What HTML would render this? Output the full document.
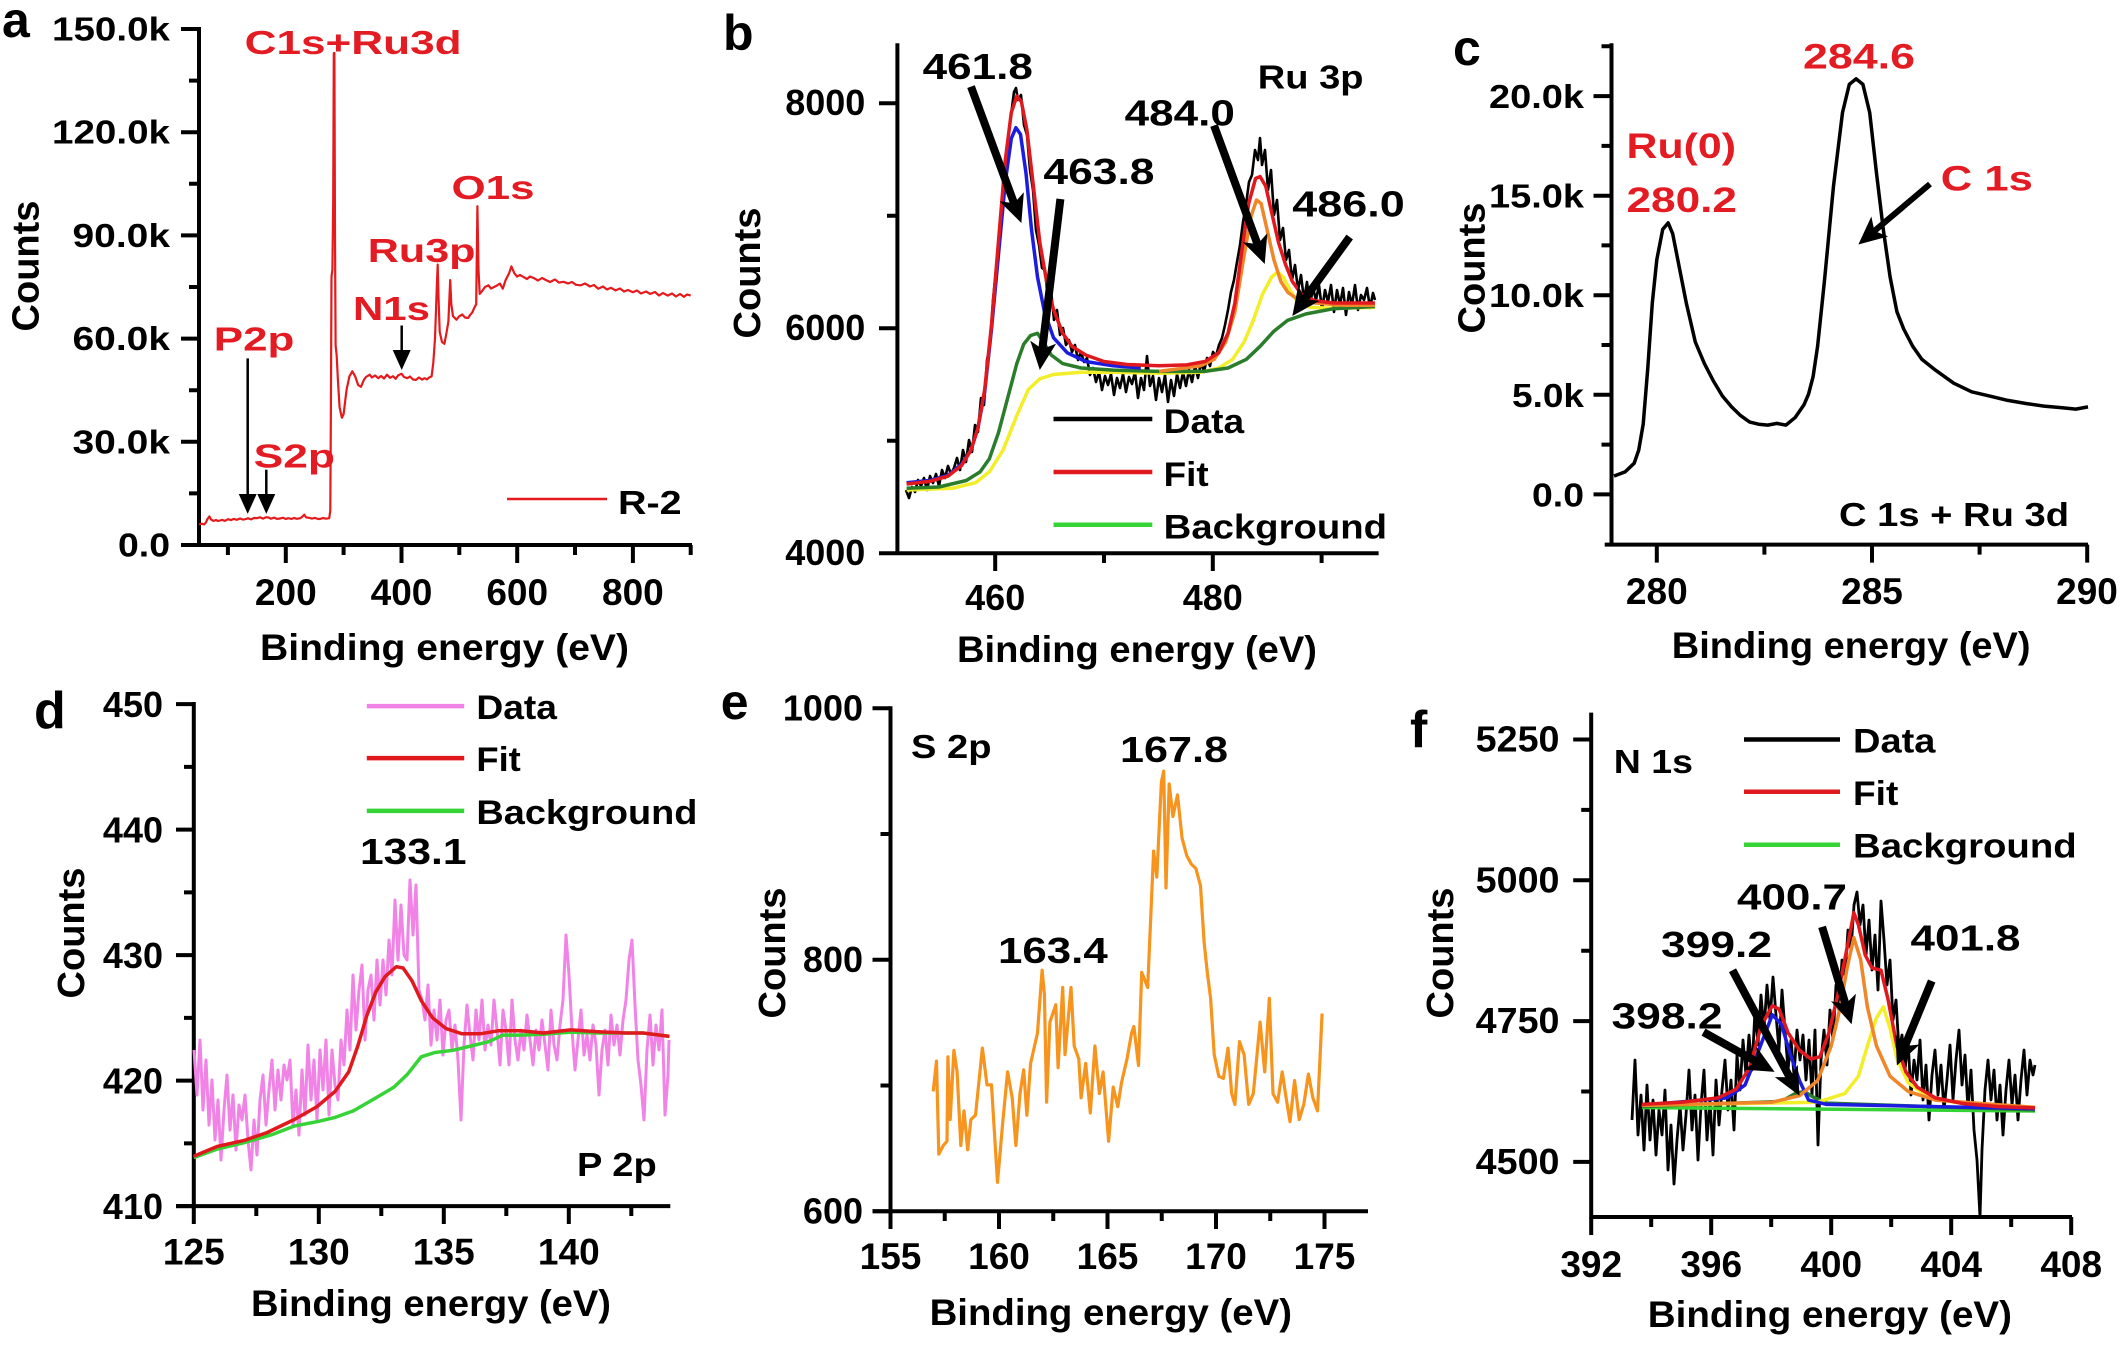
<!DOCTYPE html>
<html><head><meta charset="utf-8">
<style>
html,body{margin:0;padding:0;background:#fff}
svg{display:block}
text{font-family:"Liberation Sans",Arial,sans-serif;font-weight:bold}
</style></head>
<body>
<svg width="2120" height="1345" viewBox="0 0 2120 1345" xmlns="http://www.w3.org/2000/svg">
<defs>
<marker id="ah" markerUnits="userSpaceOnUse" markerWidth="28" markerHeight="26" refX="18" refY="13" orient="auto" viewBox="0 0 28 26"><path d="M0,0 L28,13 L0,26 L7,13 z" fill="#000"/></marker>
<marker id="as" markerUnits="userSpaceOnUse" markerWidth="20" markerHeight="18" refX="14" refY="9" orient="auto" viewBox="0 0 20 18"><path d="M0,0 L20,9 L0,18 z" fill="#000"/></marker>
</defs>
<rect width="2120" height="1345" fill="#fff"/>

<!-- ================= PANEL A ================= -->
<g stroke="#000" stroke-width="4" fill="none">
<path d="M199,27 V547 M181,545 H692"/>
<path d="M181,29 H199 M181,132.2 H199 M181,235.4 H199 M181,338.6 H199 M181,441.8 H199"/>
<path d="M189,80.6 H199 M189,183.8 H199 M189,287 H199 M189,390.2 H199 M189,493.4 H199"/>
<path d="M285.8,545 V563 M401.5,545 V563 M517.2,545 V563 M632.9,545 V563"/>
<path d="M227.9,545 V555 M343.6,545 V555 M459.3,545 V555 M575,545 V555 M690.7,545 V555"/>
</g>
<path fill="none" stroke="#e41a1c" stroke-width="2.2" stroke-linejoin="round" d="M199,524.4 L201.9,523.7 L204,524.5 L205.9,522.6 L207.5,519 L209.4,516.4 L211,519.5 L213.5,520.9 L216,520 L218,521 L222.1,519.9 L225,520.8 L228,519.2 L231,520.1 L233.7,518.9 L237,519.8 L240,518.5 L243,519.6 L245.3,519.2 L248,518.3 L251,519.4 L254,518 L256.9,518.2 L260,517.3 L263,518.6 L266,517.2 L268.4,517.5 L271,518.7 L274,517.6 L277,518.9 L280,518.5 L283,517.8 L286,519 L288,518.2 L291.6,518.9 L294,518 L297,518.8 L300.2,518.2 L302,517 L304.3,514.7 L306,517.3 L308.9,517.8 L312,518.6 L315,517.9 L318,519 L320.5,518.9 L323,518 L326,518.7 L329.2,518.2 L330.3,510.6 L330.9,407.4 L331.5,276.7 L332.4,269.8 L333.2,201 L333.8,53.1 L334.4,53 L335,235.4 L335.6,345.5 L336.7,355.8 L337.9,379.9 L339.6,407.4 L341.9,417.7 L343.6,414.3 L346.5,390.2 L349.4,376.4 L352.3,371.3 L355.2,376.4 L358.1,385 L361,386.8 L363.9,379.9 L366,377 L369.7,374.7 L372,377.5 L375,375.5 L378.3,378.2 L381,376 L384,378.5 L387,374.7 L390,377.8 L393,376.2 L395.7,378.8 L398,375.5 L401.5,373.7 L404,377 L407.3,378.2 L410,376.5 L413,379.5 L415.9,379.9 L419,377.5 L422,379.6 L424.6,378.2 L427,379.4 L429,377.6 L431.6,376.4 L433.3,362.7 L435,338.6 L436.8,287 L437.7,264.6 L438.5,297.3 L439.7,331.7 L442,342 L444.4,343.8 L446.7,331.7 L448.4,321.4 L450.2,280.1 L451.3,304.2 L453,316.2 L456.5,319.7 L459,316.5 L462.3,314.5 L465,317.5 L468.1,318 L470,315 L472.1,312.8 L474.4,307.6 L476.2,304.2 L477.4,206.2 L478.5,269.8 L479.7,293.9 L482.6,290.4 L485,287 L488.4,285.3 L491,288.5 L494.1,287 L497,285.5 L499.9,283.6 L502.8,288.7 L505.6,280.1 L509.1,273.2 L511.4,266.4 L514.3,273.2 L517,276.5 L520,275 L523,276.7 L527,279 L530,276.5 L534.5,278.4 L538,280.5 L542,278 L546.1,280.1 L550,282 L555,279.5 L559,282.6 L563.5,281.8 L568,283.5 L572,282 L576,284.8 L580.8,285.3 L585,283.5 L590,286.5 L594,285 L598.2,288.7 L603,286.5 L607,289.5 L611,287.8 L615.5,290.4 L620,288.5 L624,291.5 L628,290 L632.9,292.2 L637,290.5 L641,293.5 L646,291.5 L650.2,293.9 L655,292 L659,295.5 L663,293 L667.6,295.6 L672,293.5 L676,296.5 L680,294 L684,296.8 L687,294.5 L690.7,295.6"/>
<g stroke="#000" stroke-width="2.5" fill="none">
<path d="M247.7,358.4 V507.9" marker-end="url(#as)"/>
<path d="M266.3,469.7 V507.9" marker-end="url(#as)"/>
<path d="M401.7,325.5 V364" marker-end="url(#as)"/>
</g>
<line x1="507" y1="499" x2="607" y2="499" stroke="#e41a1c" stroke-width="2.5"/>
<text x="618" y="514" font-size="33" textLength="63.6" lengthAdjust="spacingAndGlyphs">R-2</text>
<g fill="#e31b23" font-size="33">
<text x="244.6" y="54" textLength="217" lengthAdjust="spacingAndGlyphs">C1s+Ru3d</text>
<text x="451.5" y="199" textLength="83" lengthAdjust="spacingAndGlyphs">O1s</text>
<text x="367.8" y="262" textLength="107.7" lengthAdjust="spacingAndGlyphs">Ru3p</text>
<text x="353" y="320" textLength="77" lengthAdjust="spacingAndGlyphs">N1s</text>
<text x="213.8" y="350.6" textLength="80.6" lengthAdjust="spacingAndGlyphs">P2p</text>
<text x="253.6" y="467.5" textLength="81.4" lengthAdjust="spacingAndGlyphs">S2p</text>
</g>
<text x="2" y="37" font-size="50">a</text>
<g font-size="33">
<text x="52" y="40.5" textLength="118" lengthAdjust="spacingAndGlyphs">150.0k</text>
<text x="52" y="143.7" textLength="118" lengthAdjust="spacingAndGlyphs">120.0k</text>
<text x="72.5" y="246.9" textLength="97.5" lengthAdjust="spacingAndGlyphs">90.0k</text>
<text x="72.5" y="350.1" textLength="97.5" lengthAdjust="spacingAndGlyphs">60.0k</text>
<text x="72.5" y="453.3" textLength="97.5" lengthAdjust="spacingAndGlyphs">30.0k</text>
<text x="118" y="556.5" textLength="52" lengthAdjust="spacingAndGlyphs">0.0</text>
</g>
<g font-size="37" text-anchor="middle">
<text x="285.8" y="605">200</text>
<text x="401.5" y="605">400</text>
<text x="517.2" y="605">600</text>
<text x="632.9" y="605">800</text>
</g>
<text x="260" y="660" font-size="37" textLength="369" lengthAdjust="spacingAndGlyphs">Binding energy (eV)</text>
<text transform="translate(38.5,266) rotate(-90)" text-anchor="middle" font-size="38">Counts</text>

<!-- ================= PANEL B ================= -->
<g stroke="#000" stroke-width="4" fill="none">
<path d="M897.4,43.3 V555 M879,553.2 H1378.6"/>
<path d="M879,103.2 H897.4 M879,328.2 H897.4"/>
<path d="M887,215.7 H897.4 M887,440.7 H897.4"/>
<path d="M995.2,553.2 V571 M1212.8,553.2 V571"/>
<path d="M1104,553.2 V563 M1321.6,553.2 V563"/>
</g>
<path fill="none" stroke="#000" stroke-width="2.6" stroke-linejoin="round" d="M906,490 L909,498 L912,487 L915,492 L918,480 L921,486 L924,478 L927,490 L930,476 L933,483 L936,474 L939,486 L942,470 L945,478 L948,466 L951,474 L954,468 L957,458 L960,470 L963,450 L966,462 L969,440 L972,452 L975,425 L978,432 L981,398 L984,405 L987,360 L990,345 L993,300 L996,270 L999,240 L1002,205 L1005,180 L1008,140 L1011,115 L1014,92 L1016,88 L1018,100 L1021,95 L1024,125 L1027,135 L1030,170 L1033,190 L1036,230 L1039,245 L1042,268 L1045,270 L1048,300 L1051,290 L1054,320 L1057,310 L1060,335 L1063,328 L1066,345 L1069,340 L1072,352 L1075,345 L1078,360 L1081,352 L1084,362 L1087,358 L1090,375 L1093,368 L1096,382 L1099,372 L1102,390 L1105,376 L1108,385 L1111,374 L1114,395 L1117,378 L1120,388 L1123,374 L1126,392 L1129,377 L1132,384 L1135,372 L1138,398 L1141,378 L1144,390 L1147,356 L1150,386 L1153,376 L1156,400 L1159,378 L1162,392 L1165,375 L1168,402 L1171,380 L1174,396 L1177,374 L1180,388 L1183,372 L1186,386 L1189,370 L1192,382 L1195,366 L1198,378 L1201,362 L1204,372 L1207,358 L1210,366 L1213,352 L1216,356 L1219,345 L1222,338 L1225,325 L1228,310 L1231,292 L1234,280 L1237,262 L1240,245 L1243,222 L1246,205 L1249,182 L1252,175 L1255,150 L1258,160 L1260,138 L1262,165 L1265,150 L1268,190 L1271,170 L1274,215 L1277,200 L1280,240 L1283,228 L1286,260 L1289,250 L1292,280 L1295,265 L1298,290 L1301,275 L1304,300 L1307,282 L1310,305 L1313,288 L1316,300 L1319,285 L1322,310 L1325,290 L1328,302 L1331,285 L1334,312 L1337,290 L1340,305 L1343,288 L1346,315 L1349,292 L1352,305 L1355,285 L1358,310 L1361,295 L1364,300 L1367,288 L1370,308 L1373,293 L1375,300"/>
<g fill="none" stroke-width="3.5" stroke-linejoin="round">
<path stroke="#f2ee2a" d="M906.6,490 L952.5,488.3 L975.5,482.7 L989.3,471.9 L1003,450.2 L1016.8,415.6 L1028.3,389.6 L1039.8,378.8 L1053.5,374.5 L1081.1,372.3 L1113.2,372.3 L1159.1,373.2 L1200.5,372.3 L1218.8,368 L1232.6,359.3 L1244.1,342 L1253.3,320.3 L1262.4,294.4 L1271.6,277.1 L1277.6,271.9 L1283.1,277.1 L1290,290 L1296.9,300.9 L1310.6,307.4 L1333.6,308.2 L1374.9,307.4"/>
<path stroke="#2a7d2a" d="M906.6,488.3 L938.8,487 L966.3,480.5 L980.1,471.9 L989.3,458.9 L998.4,432.9 L1007.6,398.3 L1016.8,363.6 L1023.7,344.2 L1030.6,335.5 L1037.5,333.3 L1043.4,342 L1051.2,355 L1062.7,363.6 L1081.1,368 L1113.2,370.1 L1159.1,371.4 L1205,371.4 L1228,368 L1246.4,359.3 L1260.1,346.3 L1273.9,331.2 L1287.7,320.3 L1306.1,313.9 L1333.6,308.7 L1374.9,306.5"/>
<path stroke="#f0862a" d="M1159.1,371.4 L1200.5,365.8 L1214.2,359.3 L1225.7,342 L1234.9,311.7 L1244.1,255.4 L1251,216.5 L1256.5,200 L1261.1,203.5 L1267,229.4 L1273.9,259.7 L1280.8,281.4 L1287.7,292.2 L1296.9,298.7 L1315.2,303 L1342.8,305.2 L1374.9,305.2"/>
<path stroke="#1c1ce0" d="M906.6,482.7 L929.6,480.5 L947.9,475.3 L961.7,464.1 L970.9,450.2 L977.8,428.6 L984.7,391.8 L991.5,329 L998.4,255.4 L1005.3,181.8 L1011.3,138.5 L1015.9,127.7 L1020.5,134.2 L1026,173.2 L1031.5,229.4 L1037.5,277 L1044.4,311.7 L1053.5,337.7 L1067.3,352.8 L1085.7,361.5 L1113.2,365.8 L1140.8,368"/>
<path stroke="#e0191e" d="M906.6,484 L929.6,481.4 L947.9,476.2 L961.7,465.4 L970.9,450.2 L977.8,428.6 L984.7,389.6 L991.5,324.7 L998.4,242.4 L1005.3,160.2 L1011.3,112.6 L1016.8,96.1 L1021.4,101.7 L1026.9,129.9 L1032.9,181.8 L1039.8,242.4 L1046.6,281.4 L1053.5,309.5 L1062.7,333.3 L1071.9,346.3 L1085.7,355 L1104,361.5 L1127,364.5 L1159.1,365.8 L1186.7,364.9 L1205,361.5 L1218.8,352.8 L1228,333.3 L1234.9,303 L1241.8,251.1 L1248.7,203.5 L1255.6,178.4 L1260.1,176.6 L1265.7,186.1 L1271.6,212.1 L1278.5,242.4 L1285.4,264.1 L1292.3,281.4 L1301.5,294.4 L1315.2,300.9 L1333.6,303 L1352,303 L1374.9,303"/>
</g>
<g stroke="#000" stroke-width="8" fill="none">
<path d="M971,86.6 L1017.9,213.6" marker-end="url(#ah)"/>
<path d="M1060.4,199 L1041,360.1" marker-end="url(#ah)"/>
<path d="M1214,125.5 L1261.3,254.6" marker-end="url(#ah)"/>
<path d="M1349.7,237 L1298.2,307.9" marker-end="url(#ah)"/>
</g>
<g font-size="36">
<text x="922.7" y="79" textLength="110.2" lengthAdjust="spacingAndGlyphs">461.8</text>
<text x="1043.4" y="184" textLength="111.1" lengthAdjust="spacingAndGlyphs">463.8</text>
<text x="1124.7" y="125.5" textLength="110.2" lengthAdjust="spacingAndGlyphs">484.0</text>
<text x="1292.3" y="216.5" textLength="112.5" lengthAdjust="spacingAndGlyphs">486.0</text>
</g>
<text x="1257.8" y="88.7" font-size="33" textLength="105.7" lengthAdjust="spacingAndGlyphs">Ru 3p</text>
<line x1="1053.5" y1="419" x2="1152.3" y2="419" stroke="#000" stroke-width="4.5"/>
<line x1="1053.5" y1="472" x2="1152.3" y2="472" stroke="#e0191e" stroke-width="4.5"/>
<line x1="1053.5" y1="524.7" x2="1152.3" y2="524.7" stroke="#35d335" stroke-width="4.5"/>
<g font-size="34">
<text x="1163.7" y="433" textLength="80.4" lengthAdjust="spacingAndGlyphs">Data</text>
<text x="1163.7" y="486" textLength="45" lengthAdjust="spacingAndGlyphs">Fit</text>
<text x="1163.7" y="538.7" textLength="223.3" lengthAdjust="spacingAndGlyphs">Background</text>
</g>
<text x="723" y="50" font-size="50">b</text>
<g font-size="36" text-anchor="end">
<text x="865.3" y="115">8000</text>
<text x="865.3" y="340">6000</text>
<text x="865.3" y="565">4000</text>
</g>
<g font-size="36" text-anchor="middle">
<text x="995.2" y="610">460</text>
<text x="1212.8" y="610">480</text>
</g>
<text x="957" y="662" font-size="37" textLength="360" lengthAdjust="spacingAndGlyphs">Binding energy (eV)</text>
<text transform="translate(760,273) rotate(-90)" text-anchor="middle" font-size="38">Counts</text>

<!-- ================= PANEL C ================= -->
<g stroke="#000" stroke-width="4" fill="none">
<path d="M1611.5,43.3 V546.6 M1604.7,544.6 H2088"/>
<path d="M1593.5,494.4 H1611.5 M1593.5,394.8 H1611.5 M1593.5,295.2 H1611.5 M1593.5,195.7 H1611.5 M1593.5,96.1 H1611.5"/>
<path d="M1601.5,46.3 H1611.5 M1601.5,145.9 H1611.5 M1601.5,245.4 H1611.5 M1601.5,345 H1611.5 M1601.5,444.6 H1611.5"/>
<path d="M1656.8,544.6 V562.6 M1872,544.6 V562.6 M2087.2,544.6 V562.6"/>
<path d="M1764.4,544.6 V554.6 M1979.6,544.6 V554.6"/>
</g>
<path fill="none" stroke="#000" stroke-width="3.5" stroke-linejoin="round" d="M1614,476 L1616.1,475.3 L1625.1,471.9 L1634.2,463.2 L1638.7,450.2 L1643.2,424.2 L1647.8,368 L1652.3,303 L1656.8,259.7 L1662.7,229.4 L1668.2,222.9 L1672.7,233.8 L1679.5,268.4 L1686.3,303 L1695.3,342 L1704.4,363.6 L1713.4,381 L1722.5,396.1 L1731.6,406.9 L1740.6,415.6 L1749.7,422.1 L1758.7,424.2 L1767.8,425.1 L1776.8,423.4 L1785.9,425.1 L1795,417.7 L1804,404.8 L1808.6,393.9 L1813.1,376.6 L1817.6,346.3 L1824.4,281.4 L1833.5,186.1 L1842.5,112.6 L1849.3,84.4 L1856.1,78.8 L1862.9,84.4 L1869.7,112.6 L1876.5,173.2 L1883.3,229.4 L1890.1,277 L1896.9,311.7 L1903.7,329 L1912.7,346.3 L1921.8,359.3 L1935.4,370.1 L1953.5,383.1 L1971.6,391.8 L1989.7,396.1 L2007.8,400.4 L2025.9,403.5 L2044,406.1 L2062.2,407.8 L2075.8,409.1 L2088,406.9"/>
<path d="M1930,184 L1866,238.1" stroke="#000" stroke-width="6" fill="none" marker-end="url(#ah)"/>
<g fill="#e31b23" font-size="35">
<text x="1803" y="68.4" textLength="112" lengthAdjust="spacingAndGlyphs">284.6</text>
<text x="1626.5" y="158" textLength="109.5" lengthAdjust="spacingAndGlyphs">Ru(0)</text>
<text x="1626.5" y="212" textLength="110.5" lengthAdjust="spacingAndGlyphs">280.2</text>
<text x="1940.8" y="190.5" textLength="92" lengthAdjust="spacingAndGlyphs">C 1s</text>
</g>
<text x="1839" y="526" font-size="33" textLength="230" lengthAdjust="spacingAndGlyphs">C 1s + Ru 3d</text>
<text x="1453" y="65" font-size="50">c</text>
<g font-size="33">
<text x="1489" y="108" textLength="95" lengthAdjust="spacingAndGlyphs">20.0k</text>
<text x="1489" y="207.7" textLength="95" lengthAdjust="spacingAndGlyphs">15.0k</text>
<text x="1489" y="307.2" textLength="95" lengthAdjust="spacingAndGlyphs">10.0k</text>
<text x="1512" y="406.8" textLength="72" lengthAdjust="spacingAndGlyphs">5.0k</text>
<text x="1532" y="506.4" textLength="52" lengthAdjust="spacingAndGlyphs">0.0</text>
</g>
<g font-size="37" text-anchor="middle">
<text x="1656.8" y="604">280</text>
<text x="1872" y="604">285</text>
<text x="2087" y="604">290</text>
</g>
<text x="1671.8" y="658" font-size="37" textLength="358.7" lengthAdjust="spacingAndGlyphs">Binding energy (eV)</text>
<text transform="translate(1484.7,268) rotate(-90)" text-anchor="middle" font-size="38">Counts</text>

<!-- ================= PANEL D ================= -->
<g stroke="#000" stroke-width="4" fill="none">
<path d="M193.8,702 V1208 M176,1206.1 H670.3"/>
<path d="M176,1206.1 H193.8 M176,1080.6 H193.8 M176,955.1 H193.8 M176,829.6 H193.8 M176,704.1 H193.8"/>
<path d="M184,1143.4 H193.8 M184,1017.9 H193.8 M184,892.4 H193.8 M184,766.9 H193.8"/>
<path d="M193.8,1206.1 V1224 M318.8,1206.1 V1224 M443.8,1206.1 V1224 M568.8,1206.1 V1224"/>
<path d="M256.3,1206.1 V1216 M381.3,1206.1 V1216 M506.3,1206.1 V1216 M631.3,1206.1 V1216"/>
</g>
<path fill="none" stroke="#f283e6" stroke-width="3" stroke-linejoin="round" d="M194,1050 L197,1095 L200,1040 L203,1110 L206,1060 L209,1125 L212,1080 L215,1140 L218,1100 L221,1160 L224,1110 L227,1075 L230,1130 L233,1095 L236,1150 L239,1105 L242,1120 L245,1095 L248,1140 L251,1170 L254,1120 L257,1155 L260,1100 L263,1075 L266,1125 L269,1090 L272,1060 L275,1110 L278,1070 L281,1100 L284,1065 L287,1080 L290,1060 L293,1125 L296,1090 L299,1135 L302,1070 L305,1115 L308,1045 L311,1100 L314,1060 L317,1120 L320,1050 L323,1090 L326,1040 L329,1115 L332,1050 L335,1085 L338,1100 L341,1040 L344,1065 L347,1010 L350,1050 L353,975 L356,1030 L359,990 L362,965 L365,1040 L368,990 L371,975 L374,1020 L377,960 L380,1005 L383,960 L386,995 L389,940 L392,975 L395,900 L398,960 L401,905 L404,955 L407,960 L410,880 L413,935 L416,885 L419,990 L422,1000 L425,1020 L428,985 L431,1045 L434,1010 L437,1040 L440,1000 L443,1055 L446,1020 L449,1010 L452,1050 L455,1025 L458,1060 L461,1120 L464,1045 L467,1005 L470,1035 L473,1060 L476,1010 L479,1040 L482,1000 L485,1050 L488,1025 L491,1045 L494,1000 L497,1030 L500,1065 L503,1010 L506,1030 L509,1065 L512,1000 L515,1040 L518,1060 L521,1030 L524,1050 L527,1015 L530,1040 L533,1065 L536,1030 L539,1050 L542,1020 L545,1045 L548,1070 L551,1010 L554,1045 L557,1060 L560,1025 L563,1000 L566,935 L569,975 L572,1030 L575,1070 L578,1040 L581,1010 L584,1055 L587,1035 L590,1060 L593,1025 L596,1045 L599,1095 L602,1050 L605,1030 L608,1065 L611,1015 L614,1045 L617,1025 L620,1055 L623,1020 L626,1000 L629,960 L632,940 L635,1005 L638,1060 L641,1085 L644,1120 L647,1050 L650,1015 L653,1065 L656,1025 L659,1050 L662,1010 L665,1115 L668,1075 L669,1040"/>
<path fill="none" stroke="#35d335" stroke-width="3.5" stroke-linejoin="round" d="M193.8,1157.6 L217.4,1149 L244.6,1142.5 L271.7,1134.7 L294.4,1126 L317,1121.7 L335.1,1117.4 L353.3,1110.9 L375.9,1097.9 L394,1087.1 L407.6,1074.1 L421.2,1056.8 L434.8,1052.5 L452.9,1050.3 L471,1046 L489.1,1041.6 L502.7,1035.1 L520.8,1035.1 L543.5,1034.3 L570.7,1032.1 L597.8,1033 L625,1033 L643.1,1033 L669.4,1036.4"/>
<path fill="none" stroke="#e0191e" stroke-width="3.5" stroke-linejoin="round" d="M193.8,1156.3 L217.4,1146.4 L244.6,1140.3 L267.2,1132.5 L294.4,1119.5 L317,1106.6 L335.1,1091.4 L348.7,1071.9 L357.8,1046 L366.8,1015.6 L375.9,991.8 L385,976.7 L396.3,966.7 L403.1,968 L412.1,981 L421.2,1000.5 L432.5,1017.8 L446.1,1028.6 L462,1033.8 L480.1,1033.8 L498.2,1030.8 L520.8,1030.8 L543.5,1033 L570.7,1029.9 L597.8,1031.7 L625,1033 L643.1,1033 L669.4,1036.4"/>
<line x1="366.8" y1="706.1" x2="464.2" y2="706.1" stroke="#f283e6" stroke-width="4.5"/>
<line x1="366.8" y1="758.1" x2="464.2" y2="758.1" stroke="#e0191e" stroke-width="4.5"/>
<line x1="366.8" y1="810.9" x2="464.2" y2="810.9" stroke="#35d335" stroke-width="4.5"/>
<g font-size="34">
<text x="476.4" y="719" textLength="80.6" lengthAdjust="spacingAndGlyphs">Data</text>
<text x="476.4" y="771" textLength="44.4" lengthAdjust="spacingAndGlyphs">Fit</text>
<text x="476.4" y="824" textLength="221" lengthAdjust="spacingAndGlyphs">Background</text>
</g>
<text x="360" y="864" font-size="36" textLength="106.5" lengthAdjust="spacingAndGlyphs">133.1</text>
<text x="577" y="1176" font-size="33" textLength="79.7" lengthAdjust="spacingAndGlyphs">P 2p</text>
<text x="34" y="728" font-size="52">d</text>
<g font-size="36" text-anchor="end">
<text x="163" y="717">450</text>
<text x="163" y="842.5">440</text>
<text x="163" y="968">430</text>
<text x="163" y="1093.6">420</text>
<text x="163" y="1219">410</text>
</g>
<g font-size="37" text-anchor="middle">
<text x="193.8" y="1264.6">125</text>
<text x="318.8" y="1264.6">130</text>
<text x="443.8" y="1264.6">135</text>
<text x="568.8" y="1264.6">140</text>
</g>
<text x="251" y="1316" font-size="37" textLength="360" lengthAdjust="spacingAndGlyphs">Binding energy (eV)</text>
<text transform="translate(83.8,933) rotate(-90)" text-anchor="middle" font-size="38">Counts</text>

<!-- ================= PANEL E ================= -->
<g stroke="#000" stroke-width="4" fill="none">
<path d="M890.5,706.3 V1213 M872.5,1211.3 H1368"/>
<path d="M872.5,708.3 H890.5 M872.5,959.8 H890.5 M872.5,1211.3 H890.5"/>
<path d="M880.5,834 H890.5 M880.5,1085.5 H890.5"/>
<path d="M890.5,1211.3 V1229 M999,1211.3 V1229 M1107.5,1211.3 V1229 M1216,1211.3 V1229 M1324.5,1211.3 V1229"/>
<path d="M944.75,1211.3 V1221 M1053.25,1211.3 V1221 M1161.75,1211.3 V1221 M1270.25,1211.3 V1221"/>
</g>
<path fill="none" stroke="#f7941d" stroke-width="3.2" stroke-linejoin="round" d="M933.2,1091.4 L936.5,1061.1 L938.8,1154.2 L943.3,1145.5 L947,1141.2 L947.9,1056.8 L950.2,1119.5 L953.9,1050.3 L957.1,1071.9 L960.8,1145.5 L964,1110.9 L967.7,1149.8 L970.9,1119.5 L975.5,1115.2 L982.4,1048.1 L987,1084.9 L991.5,1084.9 L997.5,1182.3 L1003,1119.5 L1007.6,1071.9 L1012.2,1097.9 L1015.9,1145.5 L1020,1093.6 L1023.7,1069.8 L1026.9,1115.2 L1030.6,1063.3 L1037.5,1033 L1042.1,970.2 L1044.4,994 L1046.6,1102.2 L1049.9,1022.1 L1055.8,1004.8 L1058.1,1067.6 L1062.7,987.5 L1065,1054.6 L1071,987.5 L1074.2,1046 L1078.8,1059 L1081.1,1097.9 L1085.7,1063.3 L1090.3,1113 L1094.9,1046 L1099.4,1093.6 L1103.1,1071.9 L1108.6,1141.2 L1113.2,1087.1 L1117.8,1106.6 L1121.5,1082.7 L1127,1059 L1131.6,1033 L1133.9,1026.5 L1138.5,1065.4 L1141.7,972.4 L1147.7,987.5 L1153.6,851.1 L1156.8,877.1 L1161.4,781.9 L1163.7,771.1 L1166,887.9 L1169.2,784 L1172.9,816.5 L1177.5,794.9 L1182.1,838.2 L1186.7,855.5 L1191.3,864.1 L1195.9,868.5 L1200.5,885.8 L1204.1,942.1 L1207.3,972.4 L1210.6,998.3 L1214.2,1054.6 L1218.8,1076.3 L1223.4,1078.4 L1228,1048.1 L1231.7,1093.6 L1234.9,1104.4 L1239.5,1041.6 L1244.1,1054.6 L1248.7,1104.4 L1253.3,1093.6 L1260.1,1022.1 L1264.7,1071.9 L1269.3,998.3 L1273,1093.6 L1277.6,1102.2 L1282.2,1071.9 L1286.8,1102.2 L1290,1121.7 L1294.6,1080.6 L1299.2,1119.5 L1303.8,1104.4 L1308.4,1074.1 L1312.9,1097.9 L1317.5,1110.9 L1322.1,1013.5"/>
<text x="911" y="758" font-size="33" textLength="80.5" lengthAdjust="spacingAndGlyphs">S 2p</text>
<text x="1120" y="762" font-size="36" textLength="108" lengthAdjust="spacingAndGlyphs">167.8</text>
<text x="998" y="962.8" font-size="36" textLength="109.7" lengthAdjust="spacingAndGlyphs">163.4</text>
<text x="720.7" y="719" font-size="50">e</text>
<g font-size="36" text-anchor="end">
<text x="863" y="720.3">1000</text>
<text x="863" y="971.8">800</text>
<text x="863" y="1223.3">600</text>
</g>
<g font-size="37" text-anchor="middle">
<text x="890.5" y="1269">155</text>
<text x="999" y="1269">160</text>
<text x="1107.5" y="1269">165</text>
<text x="1216" y="1269">170</text>
<text x="1324.5" y="1269">175</text>
</g>
<text x="929.6" y="1325" font-size="37" textLength="362.4" lengthAdjust="spacingAndGlyphs">Binding energy (eV)</text>
<text transform="translate(785,953) rotate(-90)" text-anchor="middle" font-size="38">Counts</text>

<!-- ================= PANEL F ================= -->
<g stroke="#000" stroke-width="4" fill="none">
<path d="M1591.2,712.6 V1219 M1591.2,1217 H2072"/>
<path d="M1573.2,739.5 H1591.2 M1573.2,880.3 H1591.2 M1573.2,1021.1 H1591.2 M1573.2,1161.9 H1591.2"/>
<path d="M1581.2,809.9 H1591.2 M1581.2,950.7 H1591.2 M1581.2,1091.5 H1591.2"/>
<path d="M1591.2,1217 V1235 M1711.2,1217 V1235 M1831.2,1217 V1235 M1951.2,1217 V1235 M2071.2,1217 V1235"/>
<path d="M1651.2,1217 V1227 M1771.2,1217 V1227 M1891.2,1217 V1227 M2011.2,1217 V1227"/>
</g>
<path fill="none" stroke="#000" stroke-width="2.8" stroke-linejoin="round" d="M1632,1120 L1635,1060 L1638,1135 L1641,1095 L1644,1150 L1647,1085 L1650,1140 L1653,1100 L1656,1155 L1659,1110 L1662,1135 L1665,1090 L1668,1170 L1671,1125 L1674,1184 L1677,1140 L1680,1105 L1683,1150 L1686,1115 L1689,1070 L1692,1130 L1695,1095 L1698,1160 L1701,1105 L1704,1070 L1707,1140 L1710,1100 L1713,1155 L1716,1080 L1719,1125 L1722,1090 L1725,1060 L1728,1110 L1731,1080 L1734,1130 L1737,1055 L1740,1090 L1743,1040 L1746,1075 L1749,1035 L1752,1070 L1755,1010 L1758,1045 L1761,995 L1764,1030 L1767,985 L1770,1020 L1773,977 L1776,1015 L1779,1050 L1782,990 L1785,1030 L1788,1070 L1791,1040 L1794,1075 L1797,1030 L1800,1060 L1803,1035 L1806,1080 L1809,1040 L1812,1095 L1815,1030 L1818,1145 L1821,1060 L1824,1030 L1827,1065 L1830,1010 L1833,1040 L1836,985 L1839,1010 L1842,960 L1845,975 L1848,930 L1851,950 L1854,905 L1857,892 L1860,925 L1863,905 L1866,955 L1869,920 L1872,970 L1875,935 L1878,990 L1881,901 L1884,940 L1887,985 L1890,960 L1893,1020 L1896,1000 L1899,1050 L1902,1035 L1905,1070 L1908,1040 L1911,1095 L1914,1060 L1917,1080 L1920,1040 L1923,1100 L1926,1065 L1929,1120 L1932,1075 L1935,1050 L1938,1095 L1941,1065 L1944,1110 L1947,1080 L1950,1045 L1953,1100 L1956,1060 L1959,1030 L1962,1085 L1965,1055 L1968,1110 L1971,1070 L1974,1130 L1977,1160 L1980,1217 L1982,1150 L1985,1090 L1988,1060 L1991,1100 L1994,1070 L1997,1120 L2000,1085 L2003,1135 L2006,1090 L2009,1060 L2012,1105 L2015,1075 L2018,1120 L2021,1080 L2024,1050 L2027,1095 L2030,1060 L2033,1075 L2035,1065"/>
<g fill="none" stroke-width="3.5" stroke-linejoin="round">
<path stroke="#35d335" d="M1641.9,1107.5 L2035,1111"/>
<path stroke="#2a7d2a" d="M1641.9,1106.6 L1781.4,1101.4 L1795,1093.6 L1804,1091.4 L1813.1,1097 L1826.7,1103.1 L2035,1110"/>
<path stroke="#f2ee2a" d="M1641.9,1105.3 L1817.6,1102.2 L1844.8,1093.6 L1858.4,1076.3 L1867.4,1046 L1876.5,1017.8 L1883.3,1007 L1890.1,1028.6 L1896.9,1058.9 L1908.2,1082.7 L1926.3,1095.7 L1953.5,1102.2 L2035,1107.4"/>
<path stroke="#1c1ce0" d="M1641.9,1105.3 L1727,1097.9 L1745.1,1084.9 L1758.7,1050.3 L1772.3,1014.8 L1781.4,1024.3 L1790.4,1054.6 L1799.5,1080.6 L1808.6,1100.1 L1826.7,1104.4 L2035,1108.7"/>
<path stroke="#f0862a" d="M1641.9,1105.3 L1772.3,1102.2 L1799.5,1095.7 L1817.6,1080.6 L1831.2,1046 L1840.3,1007 L1847.1,968 L1853.8,937.7 L1860.6,959.4 L1867.4,1007 L1876.5,1046 L1890.1,1076.3 L1908.2,1091.4 L1935.4,1100.1 L2035,1107.4"/>
<path stroke="#e0191e" d="M1641.9,1104.4 L1681.7,1102.2 L1718,1097.9 L1736.1,1089.2 L1749.7,1067.6 L1761,1026.5 L1772.3,1005.7 L1779.1,1009.2 L1788.2,1033 L1799.5,1050.3 L1810.8,1058.9 L1819.9,1056.8 L1828.9,1033 L1838,994 L1844.8,959.4 L1851.6,924.7 L1853.8,912.6 L1858.4,924.7 L1865.2,955 L1872,968 L1881,970.2 L1887.8,998.3 L1896.9,1046 L1905.9,1071.9 L1917.2,1087.1 L1935.4,1097.9 L1962.5,1103.5 L1998.8,1106.6 L2035,1107.9"/>
</g>
<g stroke="#000" stroke-width="8" fill="none">
<path d="M1703.5,1032.1 L1765.9,1067" marker-end="url(#ah)"/>
<path d="M1732.5,970.2 L1794.8,1086.9" marker-end="url(#ah)"/>
<path d="M1822.1,926.9 L1848.7,1014.7" marker-end="url(#ah)"/>
<path d="M1931.7,981 L1900.7,1056.2" marker-end="url(#ah)"/>
</g>
<g font-size="36">
<text x="1737" y="909.6" textLength="110" lengthAdjust="spacingAndGlyphs">400.7</text>
<text x="1661" y="957.2" textLength="111" lengthAdjust="spacingAndGlyphs">399.2</text>
<text x="1910.5" y="950.7" textLength="110" lengthAdjust="spacingAndGlyphs">401.8</text>
<text x="1611.5" y="1028.6" textLength="111" lengthAdjust="spacingAndGlyphs">398.2</text>
</g>
<text x="1613.8" y="773" font-size="33" textLength="79.2" lengthAdjust="spacingAndGlyphs">N 1s</text>
<line x1="1744" y1="739.5" x2="1840" y2="739.5" stroke="#000" stroke-width="4.5"/>
<line x1="1744" y1="791.8" x2="1840" y2="791.8" stroke="#e0191e" stroke-width="4.5"/>
<line x1="1744" y1="844.7" x2="1840" y2="844.7" stroke="#35d335" stroke-width="4.5"/>
<g font-size="34">
<text x="1853" y="752.5" textLength="82.4" lengthAdjust="spacingAndGlyphs">Data</text>
<text x="1853" y="804.8" textLength="45.3" lengthAdjust="spacingAndGlyphs">Fit</text>
<text x="1853" y="857.7" textLength="223.7" lengthAdjust="spacingAndGlyphs">Background</text>
</g>
<text x="1410" y="747" font-size="52">f</text>
<g font-size="36">
<text x="1475.7" y="751.5" textLength="83.8" lengthAdjust="spacingAndGlyphs">5250</text>
<text x="1475.7" y="892.3" textLength="83.8" lengthAdjust="spacingAndGlyphs">5000</text>
<text x="1475.7" y="1033.1" textLength="83.8" lengthAdjust="spacingAndGlyphs">4750</text>
<text x="1475.7" y="1173.9" textLength="83.8" lengthAdjust="spacingAndGlyphs">4500</text>
</g>
<g font-size="37" text-anchor="middle">
<text x="1591.2" y="1277">392</text>
<text x="1711.2" y="1277">396</text>
<text x="1831.2" y="1277">400</text>
<text x="1951.2" y="1277">404</text>
<text x="2071.2" y="1277">408</text>
</g>
<text x="1647.8" y="1327" font-size="37" textLength="364.2" lengthAdjust="spacingAndGlyphs">Binding energy (eV)</text>
<text transform="translate(1453,953) rotate(-90)" text-anchor="middle" font-size="38">Counts</text>
</svg>
</body></html>
